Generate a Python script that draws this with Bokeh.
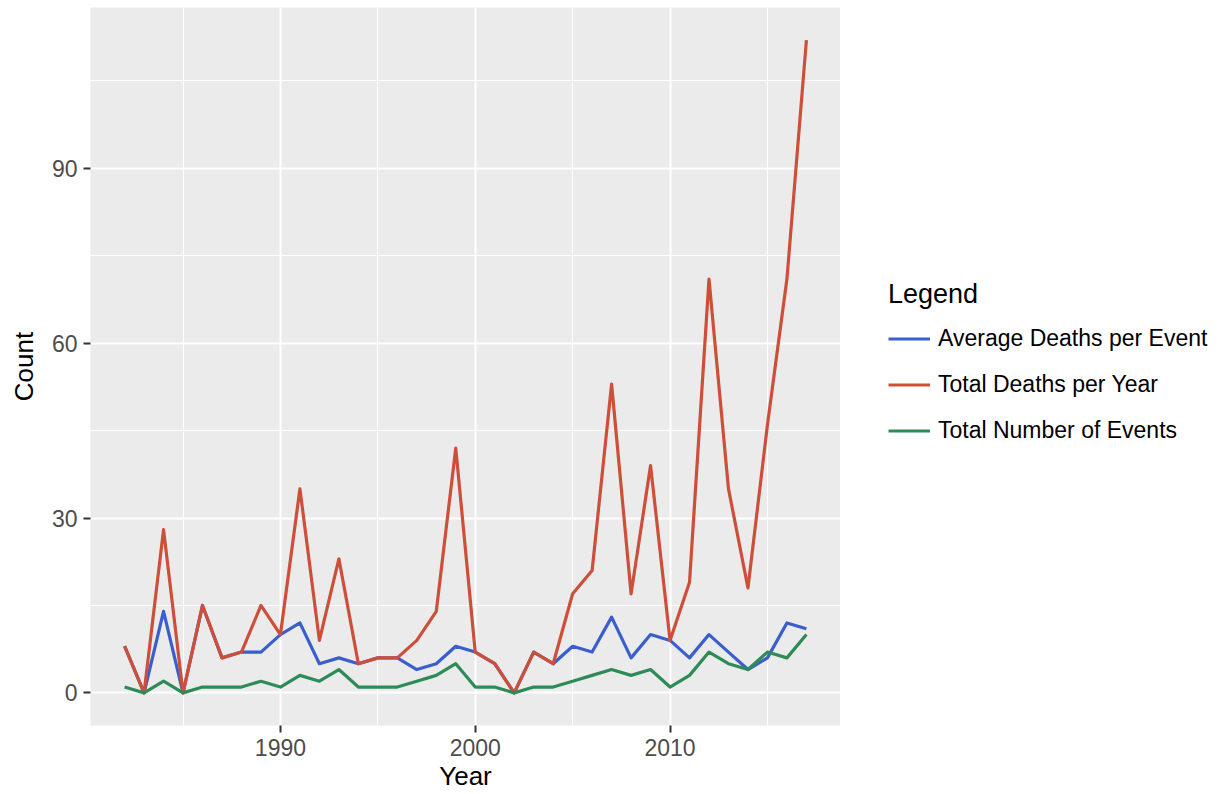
from bokeh.plotting import figure
from bokeh.layouts import row
from bokeh.models import Range1d, FixedTicker, Legend, LegendItem, ColumnDataSource
from bokeh.embed import file_html
from bokeh.resources import INLINE

# ---- data ----
years = [1982, 1983, 1984, 1985, 1986, 1987, 1988, 1989, 1990, 1991, 1992, 1993,
         1994, 1995, 1996, 1997, 1998, 1999, 2000, 2001, 2002, 2003, 2004, 2005,
         2006, 2007, 2008, 2009, 2010, 2011, 2012, 2013, 2014, 2015, 2016, 2017]
avg_deaths = [8, 0, 14, 0, 15, 6, 7, 7, 10, 12, 5, 6,
              5, 6, 6, 4, 5, 8, 7, 5, 0, 7, 5, 8,
              7, 13, 6, 10, 9, 6, 10, 7, 4, 6, 12, 11]
total_deaths = [8, 0, 28, 0, 15, 6, 7, 15, 10, 35, 9, 23,
                5, 6, 6, 9, 14, 42, 7, 5, 0, 7, 5, 17,
                21, 53, 17, 39, 9, 19, 71, 35, 18, 46, 71, 112]
total_events = [1, 0, 2, 0, 1, 1, 1, 2, 1, 3, 2, 4,
                1, 1, 1, 2, 3, 5, 1, 1, 0, 1, 1, 2,
                3, 4, 3, 4, 1, 3, 7, 5, 4, 7, 6, 10]
series_cols = ["avg", "total", "events"]
series_names = ["Average Deaths per Event", "Total Deaths per Year", "Total Number of Events"]
series_colors = ["#3A5FCD", "#CD4F39", "#2E8B57"]
x_ticks = [1990, 2000, 2010]
x_minor = [1985, 1995, 2005, 2015]
y_ticks = [0, 30, 60, 90]
y_minor = [15, 45, 75, 105]

FONT = "Liberation Sans"
LINE_W = 3.2

x_span = max(years) - min(years)
all_vals = avg_deaths + total_deaths + total_events
y_span = max(all_vals) - min(all_vals)

src = ColumnDataSource(dict(year=years, avg=avg_deaths, total=total_deaths, events=total_events))

p = figure(width=840, height=794, output_backend="svg", toolbar_location=None,
           x_range=Range1d(min(years) - 0.05 * x_span, max(years) + 0.05 * x_span),
           y_range=Range1d(min(all_vals) - 0.05 * y_span, max(all_vals) + 0.05 * y_span),
           min_border_left=90, min_border_right=0, min_border_top=7, min_border_bottom=69,
           x_axis_label="Year", y_axis_label="Count")

p.background_fill_color = "#EBEBEB"
p.border_fill_color = "white"
p.outline_line_color = None

p.xaxis.ticker = FixedTicker(ticks=x_ticks, minor_ticks=x_minor)
p.yaxis.ticker = FixedTicker(ticks=y_ticks, minor_ticks=y_minor)

for ax in (p.xaxis, p.yaxis):
    ax.axis_line_color = None
    ax.major_tick_line_color = "#333333"
    ax.major_tick_line_width = 2
    ax.major_tick_out = 7
    ax.major_tick_in = 0
    ax.minor_tick_line_color = None
    ax.major_label_text_font = FONT
    ax.major_label_text_font_size = "23px"
    ax.major_label_text_color = "#4D4D4D"
    ax.axis_label_text_font = FONT
    ax.axis_label_text_font_size = "26px"
    ax.axis_label_text_font_style = "normal"
    ax.axis_label_text_color = "black"

p.xaxis.major_label_standoff = 6
p.yaxis.major_label_standoff = 6
p.xaxis.axis_label_standoff = 2
p.yaxis.axis_label_standoff = 10

for g in (p.xgrid, p.ygrid):
    g.grid_line_color = "white"
    g.grid_line_width = 2
    g.minor_grid_line_color = "white"
    g.minor_grid_line_width = 1

for col, color in zip(series_cols, series_colors):
    p.line("year", col, source=src, line_color=color, line_width=LINE_W, line_join="round")

# ---- legend panel (separate figure so it is not clipped by the plot frame) ----
leg = figure(width=383, height=794, output_backend="svg", toolbar_location=None,
             x_range=Range1d(0, 1), y_range=Range1d(0, 1),
             min_border=0, min_border_left=0, min_border_right=0,
             min_border_top=0, min_border_bottom=0)
leg.axis.visible = False
leg.grid.visible = False
leg.outline_line_color = None
leg.background_fill_color = "white"
leg.border_fill_color = "white"

items = []
for col, name, color in zip(series_cols, series_names, series_colors):
    r = leg.line("year", col, source=src, line_color=color, line_width=LINE_W)
    items.append(LegendItem(label=name, renderers=[r]))

legend = Legend(items=items, location=(48, 273), title="Legend",
                title_text_font=FONT, title_text_font_size="27px", title_text_font_style="normal",
                title_text_color="black", title_standoff=7,
                label_text_font=FONT, label_text_font_size="23px", label_text_color="black",
                glyph_width=42, glyph_height=43, spacing=3, label_standoff=8,
                padding=0, margin=0, border_line_color=None, background_fill_alpha=0)
leg.add_layout(legend)

layout = row(p, leg, spacing=0)
open("out.html", "w").write(file_html(layout, INLINE))
